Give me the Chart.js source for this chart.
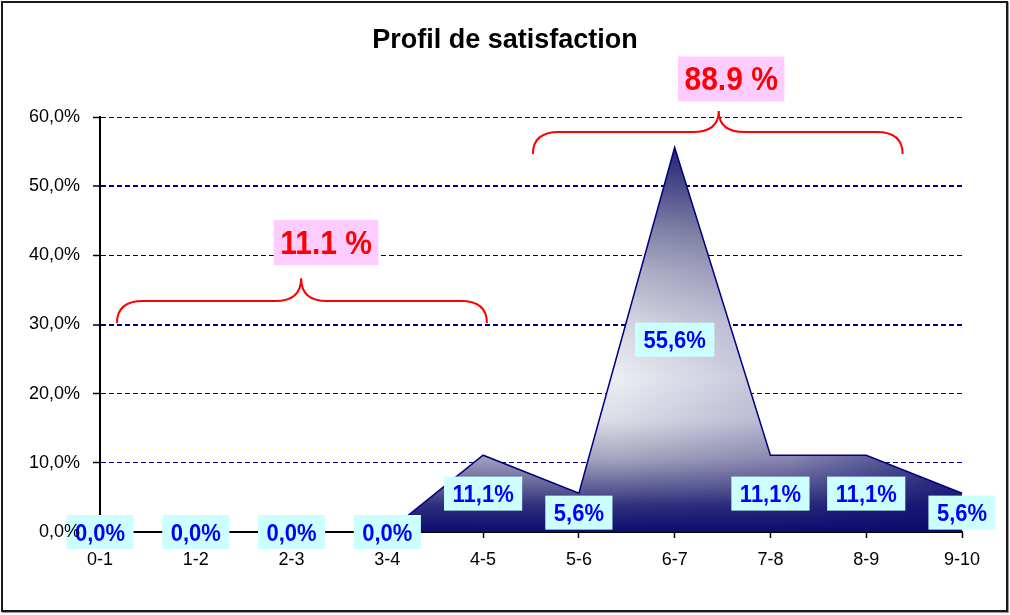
<!DOCTYPE html>
<html><head><meta charset="utf-8">
<script src="https://cdn.jsdelivr.net/npm/chart.js@4/dist/chart.umd.min.js"></script>
<style>
html,body{margin:0;padding:0;background:#fff;}
#wrap{position:relative;width:1010px;height:615px;overflow:hidden;}
#c{position:absolute;left:0;top:0;}
#frame{position:absolute;left:1px;top:1px;width:1003px;height:607px;border:2px solid #1a1a1a;pointer-events:none;box-shadow:1px 1px 0 #999;}
</style></head><body>
<div id="wrap"><canvas id="c" width="1010" height="615"></canvas><div id="frame"></div></div>
<script>
// ---- data ----
const categories = ['0-1','1-2','2-3','3-4','4-5','5-6','6-7','7-8','8-9','9-10'];
const satisfaction = [0, 0, 0, 0, 11.1, 5.6, 55.6, 11.1, 11.1, 5.6];
const yTickLabels = ['0,0%','10,0%','20,0%','30,0%','40,0%','50,0%','60,0%'];
const groupTotals = ['11.1 %', '88.9 %'];

// ---- annotation layout (category-index / value units) ----
const braceLayout = [
  {from:0.177, to:4.04, tip:2.10, end:30.2, bar:33.4, peak:36.7, lx:2.36, ly:41.86},
  {from:4.52, to:8.38, tip:6.46, end:54.65, bar:57.83, peak:60.87, lx:6.59, ly:65.5}
];

const FONT = '"Liberation Sans", Arial, sans-serif';
const NARROW = '"Liberation Sans Narrow", "Arial Narrow", "Liberation Sans", Arial, sans-serif';

let fillPattern = null;
function areaFill(context){
  const chart = context.chart, ca = chart.chartArea;
  if(!ca) return '#1a1a70';
  if(fillPattern) return fillPattern;
  const W = chart.width, H = chart.height;
  const off = document.createElement('canvas'); off.width = W; off.height = H;
  const g = off.getContext('2d');
  const top = chart.scales.y.getPixelForValue(Math.max(...satisfaction)), bot = ca.bottom;
  const lg = g.createLinearGradient(0, top, 0, bot);
  lg.addColorStop(0.00, '#262676');
  lg.addColorStop(0.10, '#50508c');
  lg.addColorStop(0.216, '#8888aa');
  lg.addColorStop(0.32, '#b0b0c6');
  lg.addColorStop(0.45, '#d6d6e2');
  lg.addColorStop(0.60, '#ececf2');
  lg.addColorStop(0.71, '#dcdce6');
  lg.addColorStop(0.81, '#a4a4be');
  lg.addColorStop(0.89, '#5a5a94');
  lg.addColorStop(0.93, '#30307f');
  lg.addColorStop(1.00, '#0c0c6e');
  g.fillStyle = lg; g.fillRect(0, 0, W, H);
  const hg = g.createLinearGradient(ca.left, 0, ca.right, 0);
  hg.addColorStop(0.0, 'rgba(10,10,110,0.15)');
  hg.addColorStop(0.6, 'rgba(10,10,110,0)');
  hg.addColorStop(0.8, 'rgba(10,10,110,0.2)');
  hg.addColorStop(1.0, 'rgba(10,10,110,0.75)');
  g.fillStyle = hg; g.fillRect(0, 0, W, H);
  fillPattern = chart.ctx.createPattern(off, 'no-repeat');
  return fillPattern;
}

function stretchedText(ctx, t, x, yBase, sy){
  ctx.save();
  ctx.translate(x, yBase);
  ctx.scale(1, sy);
  ctx.fillText(t, 0, 0);
  ctx.restore();
}

const valueLabels = {
  id: 'valueLabels',
  afterDatasetsDraw(chart){
    const {ctx, scales:{x, y}} = chart;
    ctx.save();
    ctx.font = 'bold 22px ' + FONT;
    ctx.textAlign = 'center'; ctx.textBaseline = 'alphabetic';
    chart.data.datasets[0].data.forEach((v, i) => {
      const px = x.getPixelForValue(i), py = y.getPixelForValue(v / 2);
      const t = v.toFixed(1).replace('.', ',') + '%';
      const w = ctx.measureText(t).width + 17, h = 34;
      ctx.fillStyle = '#CCFFFF';
      ctx.fillRect(px - w / 2, py - h / 2, w, h);
      ctx.fillStyle = '#0000FF';
      stretchedText(ctx, t, px, py + 8.5, 1.07);
    });
    ctx.restore();
  }
};

const braces = {
  id: 'braces',
  afterDatasetsDraw(chart){
    const {ctx, scales:{x, y}} = chart;
    ctx.save();
    braceLayout.forEach((b, k) => {
      const x0 = x.getPixelForValue(b.from), x1 = x.getPixelForValue(b.to), xt = x.getPixelForValue(b.tip);
      const ye = y.getPixelForValue(b.end), yb = y.getPixelForValue(b.bar), yp = y.getPixelForValue(b.peak);
      const r = 26;
      ctx.strokeStyle = '#FF0000'; ctx.lineWidth = 2;
      ctx.beginPath();
      ctx.moveTo(x0, ye);
      ctx.quadraticCurveTo(x0, yb, x0 + r, yb);
      ctx.lineTo(xt - r, yb);
      ctx.quadraticCurveTo(xt, yb, xt, yp);
      ctx.quadraticCurveTo(xt, yb, xt + r, yb);
      ctx.lineTo(x1 - r, yb);
      ctx.quadraticCurveTo(x1, yb, x1, ye);
      ctx.stroke();
      // total label
      const lx = x.getPixelForValue(b.lx), ly = y.getPixelForValue(b.ly);
      ctx.font = 'bold 30px ' + FONT;
      ctx.textAlign = 'center'; ctx.textBaseline = 'alphabetic';
      const t = groupTotals[k];
      const w = ctx.measureText(t).width + 13, h = 45;
      ctx.fillStyle = '#FFCCFF';
      ctx.fillRect(lx - w / 2, ly - h / 2, w, h);
      ctx.fillStyle = '#FF0000';
      stretchedText(ctx, t, lx, ly + 11.5, 1.08);
    });
    ctx.restore();
  }
};

new Chart(document.getElementById('c'), {
  type: 'line',
  data: {
    labels: categories,
    datasets: [{
      data: satisfaction,
      fill: 'origin',
      backgroundColor: areaFill,
      borderColor: '#000080',
      borderWidth: 1.5,
      pointRadius: 0,
      tension: 0,
      segment: {
        borderColor: c => (c.p0.parsed.y === 0 && c.p1.parsed.y === 0) ? '#000000' : '#000080',
        borderWidth: c => (c.p0.parsed.y === 0 && c.p1.parsed.y === 0) ? 2 : 1.5
      }
    }]
  },
  options: {
    responsive: false,
    animation: false,
    layout: {padding: {left: 0, right: 0, top: 0, bottom: 0}},
    plugins: {
      legend: {display: false},
      tooltip: {enabled: false},
      title: {
        display: true,
        text: 'Profil de satisfaction',
        color: '#000',
        font: {family: FONT, size: 27, weight: 'bold'},
        padding: {top: 24, bottom: 60.6}
      }
    },
    scales: {
      x: {
        type: 'category',
        offset: false,
        grid: {drawOnChartArea: false, drawTicks: true, tickLength: 6, tickColor: '#000', tickWidth: 1.5},
        border: {color: '#000', width: 2},
        ticks: {color: '#000', font: {family: NARROW, size: 18}, padding: 11, maxRotation: 0, autoSkip: false},
        afterFit(s){ s.height = 83; }
      },
      y: {
        min: 0, max: 60,
        ticks: {stepSize: 10, callback: (v, i) => yTickLabels[i], color: '#000', font: {family: FONT, size: 18}, padding: 13, z: 1},
        grid: {
          color: c => (c.tick && c.tick.value === 0) ? 'rgba(0,0,0,0)' : '#000080',
          lineWidth: c => (c.tick && (c.tick.value === 30 || c.tick.value === 50)) ? 2 : 1,
          tickLength: 7, tickColor: '#000', tickWidth: 1.5, tickBorderDash: []
        },
        border: {color: '#000', width: 2, dash: [5, 3]},
        afterFit(s){ s.width = 100; }
      },
      y2: {
        position: 'right',
        display: true,
        ticks: {display: false},
        grid: {display: false},
        border: {display: false},
        afterFit(s){ s.width = 48; }
      }
    }
  },
  plugins: [valueLabels, braces]
});
</script>
</body></html>
